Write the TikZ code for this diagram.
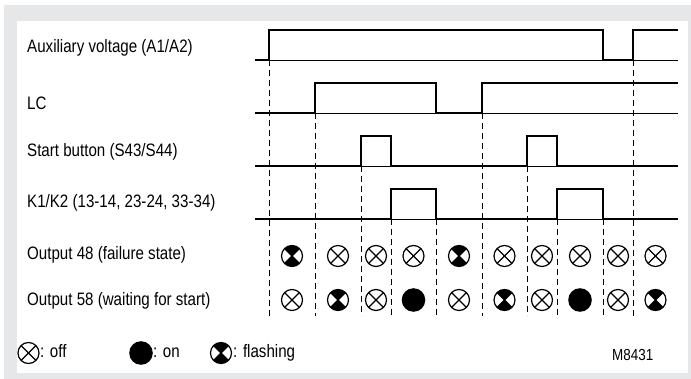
\documentclass[tikz,border=0pt]{standalone}
\usepackage{fontspec}
\setmainfont{Liberation Sans}[FakeStretch=0.84]
\definecolor{bggray}{HTML}{E6E7E8}
\tikzset{
  lbl/.style={anchor=base west, inner sep=0pt},
  sig/.style={line width=2.4pt, line join=miter},
  base/.style={line width=0.9pt},
  vdash/.style={line width=0.9pt, dash pattern=on 6pt off 4pt},
  symline/.style={line width=1.2pt}
}
\newcommand\symoff[2]{%
  \draw[symline] (#1,#2) circle[radius=10.5];
  \draw[symline] ($(#1,#2)+(45:10.5)$) -- ($(#1,#2)+(225:10.5)$)
                 ($(#1,#2)+(135:10.5)$) -- ($(#1,#2)+(315:10.5)$);}
\newcommand\symon[2]{%
  \fill (#1,#2) circle[radius=11.8];}
\newcommand\symflash[2]{%
  \fill[black] (#1,#2) -- ++(45:10.5) arc[start angle=45,end angle=135,radius=10.5] -- cycle;
  \fill[black] (#1,#2) -- ++(225:10.5) arc[start angle=225,end angle=315,radius=10.5] -- cycle;
  \symoff{#1}{#2}}
\usetikzlibrary{calc}
\begin{document}
\begin{tikzpicture}[x=1pt,y=-1pt, font=\fontsize{18}{21}\selectfont]
\useasboundingbox (0,0) rectangle (691,379);
\fill[bggray] (4,5) rectangle (691,379);
\fill[white] (17,21) rectangle (688,373);

% labels
\node[lbl] (laux) at (27,53) {Auxiliary voltage (A1/A2)};
\node[lbl] (llc) at (27,110) {LC};
\node[lbl] (lstart) at (27,157) {Start button (S43/S44)};
\node[lbl] (lk) at (27,208) {K1/K2 (13-14, 23-24, 33-34)};
\node[lbl] (lo48) at (27,260) {Output 48 (failure state)};
\node[lbl] (lo58) at (27,306) {Output 58 (waiting for start)};

% dashed verticals
\foreach \x/\y in {269/60,315/113,361/166,391/219,436/219,482/113,527/166,557/219,603/219,633/60}
  \draw[vdash] (\x,\y) -- (\x,316);

% baselines
\foreach \y in {60,113,166,219}
  \draw[base] (255,\y) -- (678,\y);

% signals
\draw[sig] (255,60) -- (269,60) -- (269,30) -- (603,30) -- (603,60) -- (633,60) -- (633,30) -- (678,30);
\draw[sig] (255,113) -- (315,113) -- (315,83) -- (436,83) -- (436,113) -- (482,113) -- (482,83) -- (678,83);
\draw[sig] (255,166) -- (361,166) -- (361,136) -- (391,136) -- (391,166) -- (527,166) -- (527,136) -- (557,136) -- (557,166) -- (678,166);
\draw[sig] (255,219) -- (391,219) -- (391,189) -- (436,189) -- (436,219) -- (557,219) -- (557,189) -- (603,189) -- (603,219) -- (678,219);

% output 48
\symflash{292}{256}
\symoff{338}{256}
\symoff{376}{256}
\symoff{413.5}{256}
\symflash{459}{256}
\symoff{504.5}{256}
\symoff{542}{256}
\symoff{580}{256}
\symoff{618}{256}
\symoff{655.5}{256}
% output 58
\symoff{292}{300}
\symflash{338}{300}
\symoff{376}{300}
\symon{413.5}{300}
\symoff{459}{300}
\symflash{504.5}{300}
\symoff{542}{300}
\symon{580}{300}
\symoff{618}{300}
\symflash{655.5}{300}

% legend
\symoff{28.5}{353}
\node[lbl] (loff) at (40,358) {: off};
\symon{141}{353}
\node[lbl] (lon) at (153,358) {: on};
\symflash{221}{353}
\node[lbl] (lfl) at (233,358) {: flashing};
\node[lbl, font=\fontsize{16}{19}\selectfont] (lm) at (612,360) {M8431};
\end{tikzpicture}
\end{document}
